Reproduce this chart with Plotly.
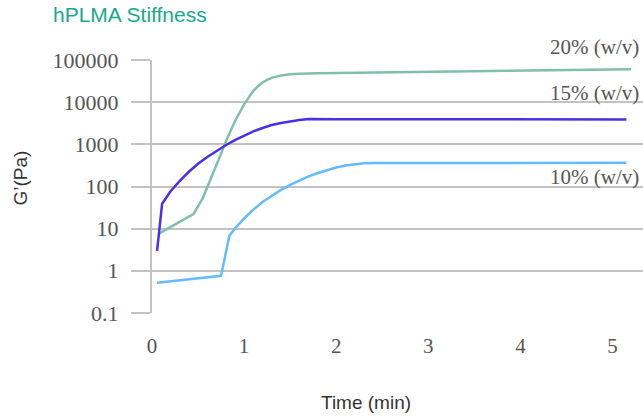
import plotly.graph_objects as go

# ---- data ----
t20 = [0.08, 0.45, 0.55, 0.63, 0.72, 0.81, 0.9, 1.0, 1.05, 1.1, 1.15, 1.2, 1.25, 1.3, 1.35, 1.4, 1.5, 1.6, 1.8, 2.5, 3.5, 4.5, 5.2]
g20 = [7.7, 22, 52, 145, 417, 1288, 3548, 8913, 13183, 18621, 23988, 29512, 33884, 38019, 40738, 43152, 46238, 47863, 48978, 51286, 54954, 58210, 60954]

t15 = [0.055, 0.11, 0.2, 0.3, 0.4, 0.5, 0.6, 0.7, 0.8, 0.9, 1.0, 1.1, 1.2, 1.3, 1.4, 1.5, 1.6, 1.7, 1.8, 1.9, 2.0, 3.0, 4.0, 5.15]
g15 = [2.95, 39, 76, 135, 224, 347, 501, 708, 955, 1259, 1622, 2042, 2455, 2884, 3236, 3548, 3802, 3981, 4027, 4027, 3963, 3940, 3925, 3917]

t10 = [0.055, 0.75, 0.84, 0.9, 1.0, 1.1, 1.2, 1.3, 1.4, 1.5, 1.6, 1.7, 1.8, 1.9, 2.0, 2.1, 2.2, 2.3, 2.4, 2.5, 3.5, 4.5, 5.15]
g10 = [0.52, 0.76, 6.8, 10, 17.4, 28.2, 42.7, 60.3, 83.2, 109.6, 141, 174, 209, 245, 282, 316, 339, 355, 363, 363, 364, 364, 364]

ytick_vals = [0.1, 1, 10, 100, 1000, 10000, 100000]
ytick_text = ["0.1", "1", "10", "100", "1000", "10000", "100000"]
xtick_vals = [0, 1, 2, 3, 4, 5]

series_labels = ["20% (w/v)", "15% (w/v)", "10% (w/v)"]
label_pos = [1.051, 0.870, 0.538]

GRID = "#c3c3c3"
SERIF = "Liberation Serif, Times New Roman, serif"
SANS = "Liberation Sans, Arial, sans-serif"

fig = go.Figure()
fig.add_trace(go.Scatter(x=t20, y=g20, mode="lines", line=dict(color="#80bfa9", width=2.5), hoverinfo="skip"))
fig.add_trace(go.Scatter(x=t15, y=g15, mode="lines", line=dict(color="#4a2fe6", width=2.5), hoverinfo="skip"))
fig.add_trace(go.Scatter(x=t10, y=g10, mode="lines", line=dict(color="#66bbff", width=2.5), hoverinfo="skip"))

annotations = []
for lab, ly in zip(series_labels, label_pos):
    annotations.append(dict(text=lab, xref="paper", x=1, xanchor="right", xshift=-2,
                            yref="paper", y=ly, yanchor="middle", showarrow=False,
                            font=dict(family=SERIF, size=21, color="#555555")))
annotations.append(dict(text="G’(Pa)", xref="paper", x=0, xshift=-132, yref="paper", y=0.5, yshift=8,
                        textangle=-90, showarrow=False, xanchor="center", yanchor="middle",
                        font=dict(family=SANS, size=19, color="#333333")))
annotations.append(dict(text="Time (min)", xref="paper", x=0.5, xshift=-32, yref="paper", y=0, yshift=-89,
                        showarrow=False, xanchor="center", yanchor="middle",
                        font=dict(family=SANS, size=19, color="#333333")))

fig.update_layout(
    width=643, height=416,
    margin=dict(l=152, r=0, t=60, b=103),
    paper_bgcolor="white", plot_bgcolor="white",
    showlegend=False,
    title=dict(text="hPLMA Stiffness", xref="container", x=53/643, xanchor="left",
               yref="container", y=1-15/416, yanchor="middle",
               font=dict(family=SANS, size=21, color="#1aa98d")),
    annotations=annotations,
)
fig.update_xaxes(range=[0, 5.33], showgrid=False, zeroline=False, showline=False,
                 tickvals=xtick_vals, ticks="", ticklabelstandoff=18,
                 tickfont=dict(family=SERIF, size=21, color="#555555"))
fig.update_yaxes(type="log", range=[-1.004, 5.004], showgrid=True, gridcolor=GRID, gridwidth=1.5,
                 zeroline=False, showline=True, linecolor=GRID, linewidth=2,
                 tickvals=ytick_vals, ticktext=ytick_text,
                 ticks="outside", ticklen=19, tickwidth=1.5, tickcolor=GRID, ticklabelstandoff=8,
                 tickfont=dict(family=SERIF, size=22, color="#555555"))

fig.write_html("out.html", config={"displayModeBar": False},
               post_script="document.body.style.margin='0';")
